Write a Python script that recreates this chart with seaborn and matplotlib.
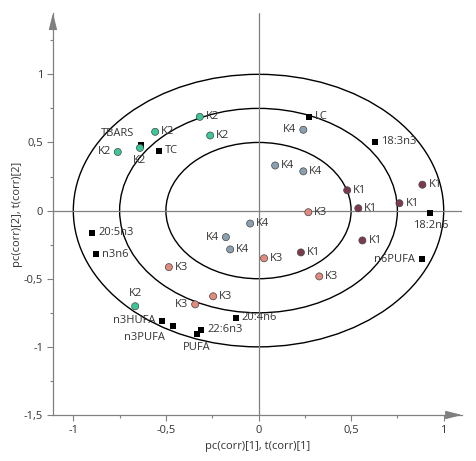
import matplotlib
matplotlib.use('Agg')
import pandas as pd
import matplotlib.pyplot as plt
import seaborn as sns
from matplotlib.patches import Ellipse
from matplotlib.ticker import FuncFormatter, MultipleLocator

# scores (observations), grouped K1..K4
score_group = ['K1'] * 6 + ['K2'] * 6 + ['K3'] * 6 + ['K4'] * 6
score_x = [0.479, 0.885, 0.539, 0.761, 0.561, 0.229,
           -0.760, -0.640, -0.558, -0.317, -0.261, -0.666,
           0.269, 0.030, -0.484, -0.245, -0.342, 0.328,
           0.242, 0.090, 0.242, -0.045, -0.176, -0.153]
score_y = [0.149, 0.190, 0.017, 0.054, -0.219, -0.307,
           0.430, 0.460, 0.578, 0.688, 0.551, -0.702,
           -0.012, -0.350, -0.415, -0.629, -0.688, -0.483,
           0.593, 0.331, 0.288, -0.095, -0.195, -0.285]

# loadings (variables)
var_names = ['TBARS', 'TC', 'LC', '18:3n3', '18:2n6', 'n6PUFA', '20:5n3',
             'n3n6', 'n3HUFA', 'n3PUFA', '22:6n3', 'PUFA', '20:4n6']
var_x = [-0.634, -0.538, 0.272, 0.629, 0.928, 0.883, -0.899,
         -0.877, -0.521, -0.461, -0.310, -0.333, -0.122]
var_y = [0.483, 0.439, 0.690, 0.505, -0.015, -0.358, -0.161,
         -0.320, -0.810, -0.849, -0.875, -0.907, -0.788]

circle_r = [0.5, 0.75, 1.0]

# where each label sits relative to its marker
score_side = ['r', 'r', 'r', 'r', 'r', 'r',
              'l', 'b', 'r', 'r', 'r', 't',
              'r', 'r', 'r', 'r', 'l', 'r',
              'l', 'r', 'r', 'r', 'l', 'r']
var_side = ['tl', 'r', 'r', 'r', 'b', 'l', 'r', 'r', 'l', 'bl', 'r', 'b', 'r']
offsets = {'r': (6, 0, 'left'), 'l': (-7, 0, 'right'), 'b': (0, -13, 'center'),
           't': (0, 13, 'center'), 'tl': (-7, 11, 'right'), 'bl': (-8, -11, 'right')}

palette = {'K1': '#7a3c4c', 'K2': '#3cc896', 'K3': '#e08a80', 'K4': '#8aa0b0'}
grey = '#808080'

sns.set_style('white')
plt.rcParams['font.family'] = ['Open Sans', 'DejaVu Sans']

scores = pd.DataFrame({'x': score_x, 'y': score_y, 'group': score_group})
loads = pd.DataFrame({'x': var_x, 'y': var_y, 'name': var_names})

fig = plt.figure(figsize=(4.77, 4.61), dpi=100)
ax = fig.add_axes([0.111, 0.0998, 0.858, 0.872])

for r in circle_r:
    ax.add_patch(Ellipse((0, 0), 2 * r, 2 * r, fill=False, ec='black', lw=1.0))
ax.axhline(0, color=grey, lw=0.9)
ax.axvline(0, color=grey, lw=0.9)

sns.scatterplot(data=loads, x='x', y='y', marker='s', color='black', s=22,
                linewidth=0, ax=ax, zorder=3)
sns.scatterplot(data=scores, x='x', y='y', hue='group', palette=palette, s=26,
                edgecolor='#444444', linewidth=0.5, ax=ax, legend=False, zorder=4)

for x, y, txt, side in zip(score_x, score_y, score_group, score_side):
    dx, dy, ha = offsets[side]
    ax.annotate(txt, (x, y), xytext=(dx, dy), textcoords='offset pixels',
                ha=ha, va='center', fontsize=8, color='#333333')
for x, y, txt, side in zip(var_x, var_y, var_names, var_side):
    dx, dy, ha = offsets[side]
    ax.annotate(txt, (x, y), xytext=(dx, dy), textcoords='offset pixels',
                ha=ha, va='center', fontsize=8, color='#333333')

ax.set_xlim(-1.11, 1.1)
ax.set_ylim(-1.5, 1.45)
ax.xaxis.set_major_locator(MultipleLocator(0.5))
ax.yaxis.set_major_locator(MultipleLocator(0.5))
ax.xaxis.set_minor_locator(MultipleLocator(0.25))
ax.yaxis.set_minor_locator(MultipleLocator(0.25))
fmt = FuncFormatter(lambda v, p: f'{v:g}'.replace('.', ','))
ax.xaxis.set_major_formatter(fmt)
ax.yaxis.set_major_formatter(fmt)
ax.tick_params(which='major', length=4, width=0.8, color=grey, labelsize=8,
               labelcolor='#333333', bottom=True, left=True, pad=3)
ax.tick_params(which='minor', length=2, width=0.8, color=grey, bottom=True, left=True)

for s in ['top', 'right']:
    ax.spines[s].set_visible(False)
for s in ['left', 'bottom']:
    ax.spines[s].set_color(grey)
    ax.spines[s].set_linewidth(0.9)

# arrow heads on the axes
ax.annotate('', xy=(1.0, 0), xytext=(0.96, 0), xycoords='axes fraction',
            arrowprops=dict(arrowstyle='-|>,head_length=1.0,head_width=0.25',
                            color=grey, lw=0.9, mutation_scale=10,
                            shrinkA=0, shrinkB=0))
ax.annotate('', xy=(0, 1.0), xytext=(0, 0.96), xycoords='axes fraction',
            arrowprops=dict(arrowstyle='-|>,head_length=1.0,head_width=0.25',
                            color=grey, lw=0.9, mutation_scale=10,
                            shrinkA=0, shrinkB=0))

ax.set_xlabel('pc(corr)[1], t(corr)[1]', fontsize=8, color='#333333', labelpad=4)
ax.set_ylabel('pc(corr)[2], t(corr)[2]', fontsize=8, color='#333333', labelpad=0.5)

fig.savefig('out.png', dpi=100)
